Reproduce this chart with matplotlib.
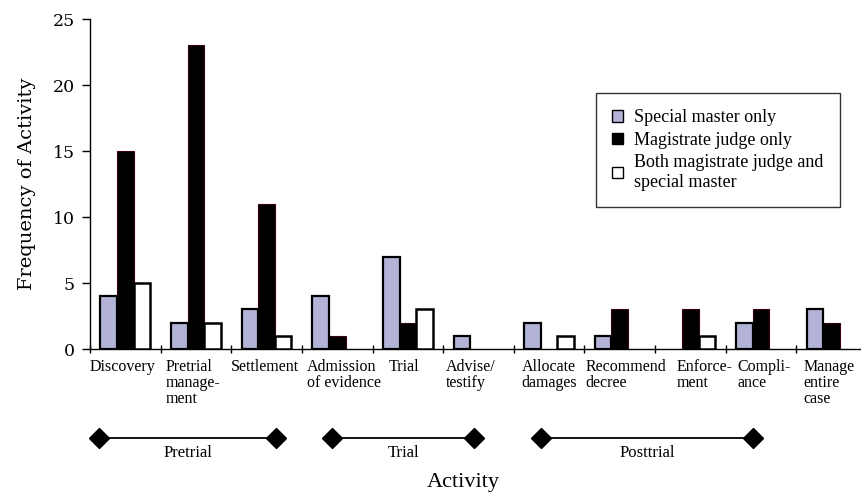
import matplotlib
matplotlib.use("Agg")
import matplotlib.pyplot as plt
import numpy as np
from matplotlib.patches import Patch

categories = ["Discovery", "Pretrial\nmanage-\nment", "Settlement", "Admission\nof evidence",
              "Trial", "Advise/\ntestify", "Allocate\ndamages", "Recommend\ndecree",
              "Enforce-\nment", "Compli-\nance", "Manage\nentire\ncase"]
special_master = [4, 2, 3, 4, 7, 1, 2, 1, 0, 2, 3]
magistrate = [15, 23, 11, 1, 2, 0, 0, 3, 3, 3, 2]
both = [5, 2, 1, 0, 3, 0, 1, 0, 1, 0, 0]
series_names = ["Special master only", "Magistrate judge only",
                "Both magistrate judge and\nspecial master"]
yticks = [0, 5, 10, 15, 20, 25]

phases = ["Pretrial", "Trial", "Posttrial"]
phase_start = [-0.37, 2.93, 5.89]
phase_end = [2.13, 4.94, 8.88]

# layout: horizontal shift of each category label from the category's left edge
label_shift = [-0.01, 0.07, 0.0, 0.07, 0.23, 0.04, 0.11, 0.01, 0.30, 0.16, 0.10]

purple = "#b3b3d8"
serif_a = "Liberation Serif"
serif_b = "DejaVu Serif"

fig = plt.figure(figsize=(8.62, 4.95), dpi=100)
ax = fig.add_axes([90 / 862, 1 - 349 / 495, 777 / 862, 330 / 495])

x = np.arange(len(categories))
w = 0.235


def nz(vals, off):
    xs = [xi + off for xi, v in zip(x, vals) if v > 0]
    ys = [v for v in vals if v > 0]
    return xs, ys


xs, ys = nz(special_master, -w)
ax.bar(xs, ys, w, color=purple, edgecolor="black", linewidth=1.6, zorder=3)
xs, ys = nz(magistrate, 0)
ax.bar(xs, ys, w, color="black", edgecolor="#3a0018", linewidth=0.8, zorder=2)
xs, ys = nz(both, w)
ax.bar(xs, ys, w, color="white", edgecolor="black", linewidth=1.8, zorder=3)

ax.set_xlim(-0.5, len(categories) - 0.5)
ax.set_ylim(0, 25)
for s in ["top", "right"]:
    ax.spines[s].set_visible(False)
ax.spines["left"].set_linewidth(1.0)
ax.spines["bottom"].set_linewidth(1.0)

ax.set_yticks(yticks)
ax.set_yticklabels([str(v) for v in yticks], fontfamily=serif_b, fontsize=12.5)
ax.tick_params(axis="y", direction="out", length=6, width=1, pad=5)

ax.set_xticks(np.arange(len(categories) + 1) - 0.5)
ax.set_xticklabels([])
ax.tick_params(axis="x", direction="inout", length=6, width=1)

for i, c in enumerate(categories):
    ax.text(i - 0.5 + label_shift[i], -0.75, c, ha="left", va="top", fontfamily=serif_a,
            fontsize=11.5, linespacing=1.0)

ax.set_ylabel("Frequency of Activity", fontfamily=serif_b, fontsize=14, labelpad=12)

# phase brackets
trans = matplotlib.transforms.blended_transform_factory(ax.transData, fig.transFigure)
ybr = 1 - 438 / 495
for name, s, e in zip(phases, phase_start, phase_end):
    ax.plot([s, e], [ybr, ybr], color="black", lw=1.3, transform=trans, clip_on=False)
    ax.plot([s, e], [ybr, ybr], ls="none", marker="D", ms=10.5, color="black",
            transform=trans, clip_on=False)
    ax.text((s + e) / 2, 1 - 453 / 495, name, ha="center", va="center", transform=trans,
            fontfamily=serif_a, fontsize=12)

fig.text(463 / 862, 1 - 482 / 495, "Activity", ha="center", va="center",
         fontfamily=serif_a, fontsize=16)

handles = [Patch(facecolor=purple, edgecolor="black", linewidth=1.0),
           Patch(facecolor="black", edgecolor="black", linewidth=1.0),
           Patch(facecolor="white", edgecolor="black", linewidth=1.0)]
leg = fig.legend(handles, series_names, loc="upper left",
                 bbox_to_anchor=(596 / 862, 1 - 93 / 495), frameon=True, fancybox=False,
                 prop={"family": serif_a, "size": 13}, handlelength=0.6, handleheight=0.6,
                 handletextpad=0.6, labelspacing=0.3, borderpad=0.9, borderaxespad=0.0)
leg.get_frame().set_edgecolor("black")
leg.get_frame().set_linewidth(1.0)

fig.savefig("out.png", dpi=100)
